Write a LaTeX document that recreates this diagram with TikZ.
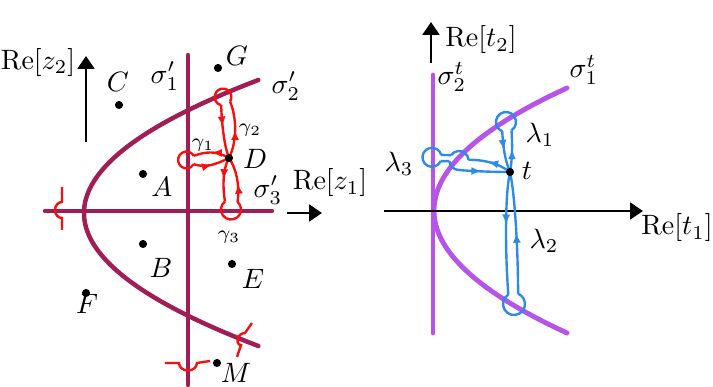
\documentclass[tikz,border=0pt]{standalone}
\usetikzlibrary{arrows.meta,decorations.markings,calc}
\definecolor{maroon}{RGB}{160,30,85}
\definecolor{purp}{RGB}{182,84,232}
\definecolor{cblue}{RGB}{45,138,230}
\definecolor{cred}{RGB}{245,15,15}
\tikzset{
 pdot/.style={circle,fill=black,inner sep=0pt,minimum size=2.9pt},
 lab/.style={inner sep=0pt},
 slab/.style={inner sep=0pt,font=\scriptsize},
 mline/.style={draw=maroon,line width=1.6pt,line cap=round},
 pline/.style={draw=purp,line width=1.75pt,line cap=round},
 rc/.style={cred,line width=0.85pt},
 bc/.style={cblue,line width=0.85pt},
 marr/.style={postaction={decorate},decoration={markings,mark=at position #1 with {\arrow{Latex[length=3.6pt,width=2.9pt]}}}},
 axis/.style={line width=0.9pt,-{Triangle[length=4.6pt,width=6pt]}},
}
\begin{document}
\begin{tikzpicture}[x=0.357pt,y=-0.357pt]
\useasboundingbox (0,0) rectangle (713,387);

% ---------- left panel: curves ----------
\draw[mline] (188,55) -- (188,385);
\draw[mline] (45,211) -- (272,211);
\draw[mline] plot[domain=80:346,samples=80,smooth] ({84+0.00985*(\x-213)*(\x-213)},\x);

% axes left
\coordinate (z2s) at (86,142); \coordinate (z2e) at (86,56);
\draw[axis] (z2s) -- (z2e);
\coordinate (z1s) at (287,213); \coordinate (z1e) at (322,213);
\draw[axis] (z1s) -- (z1e);

% dots
\node[pdot] (G) at (218,68) {};
\node[pdot] (C) at (119,105) {};
\node[pdot] (A) at (143,174) {};
\node[pdot] (B) at (143,244) {};
\node[pdot] (E) at (232,264) {};
\node[pdot] (F) at (86,293) {};
\node[pdot] (M) at (217,363) {};

% red cuts
\draw[rc] (62,187) -- (62,202) arc[start angle=90,end angle=270,x radius=2.5pt,y radius=2.86pt] -- (62,230);
\draw[rc] (165,363) -- (179,363) arc[start angle=180,end angle=360,x radius=3.2pt,y radius=2.7pt] -- (210,361);
\draw[rc] (252,323) -- (245,333) .. controls (237,333) and (235,345) .. (241,345) -- (237,357);

% red contours
\coordinate (Dc) at (229,158);
% gamma2
\coordinate (c2) at (223,97);
\coordinate (c2r) at ($(c2)+(327:3.0pt)$);
\coordinate (c2l) at ($(c2)+(257:3.0pt)$);
\draw[rc,marr=0.5] (Dc) .. controls (238,140) and (236,115) .. (c2r);
\draw[rc] (c2r) arc[start angle=327,end angle=617,radius=3.0pt];
\draw[rc,marr=0.4] (c2l) .. controls (222,125) and (224,145) .. (Dc);
% gamma1
\coordinate (c1) at (186.5,160);
\coordinate (c1u) at ($(c1)+(30:3.0pt)$);
\coordinate (c1d) at ($(c1)+(330:3.0pt)$);
\draw[rc,marr=0.5] (Dc) .. controls (215,150) and (205,152) .. (c1u);
\draw[rc] (c1u) arc[start angle=30,end angle=330,radius=3.0pt];
\draw[rc,marr=0.5] (c1d) .. controls (205,168) and (215,165) .. (Dc);
% gamma3
\coordinate (c3) at (231,209.5);
\coordinate (c3l) at ($(c3)+(127:3.57pt)$);
\coordinate (c3r) at ($(c3)+(49:3.57pt)$);
\draw[rc,marr=0.5] (Dc) .. controls (222,170) and (223,190) .. (c3l);
\draw[rc] (c3l) arc[start angle=127,end angle=409,radius=3.57pt];
\draw[rc,marr=0.4] (c3r) .. controls (240,185) and (236,168) .. (Dc);

\node[pdot] (D) at (Dc) {};

% labels left
\node[lab] (lz2) at (38,62) {$\mathrm{Re}[z_2]$};
\node[lab] (lz1) at (330,183) {$\mathrm{Re}[z_1]$};
\node[lab] (s1) at (165,76) {$\sigma'_1$};
\node[lab] (s2) at (286,86) {$\sigma'_2$};
\node[lab] (s3) at (268,190) {$\sigma'_3$};
\node[lab] (Gl) at (237,56) {$G$};
\node[lab] (Cl) at (118,82) {$C$};
\node[lab] (Dl) at (255,159) {$D$};
\node[lab] (Al) at (162,187) {$A$};
\node[lab] (Bl) at (161,268) {$B$};
\node[lab] (El) at (253,279) {$E$};
\node[lab] (Fl) at (87,304) {$F$};
\node[lab] (Ml) at (236,373) {$M$};
\node[slab] (g1) at (203,145) {$\gamma_1$};
\node[slab] (g2) at (250,130) {$\gamma_2$};
\node[slab] (g3) at (229,237) {$\gamma_3$};

% ---------- right panel ----------
\draw[pline] (433,75) -- (433,333);
\draw[pline] plot[domain=88:333,samples=80,smooth] ({434+0.00886*(\x-210.5)*(\x-210.5)},\x);

\coordinate (t1s) at (384,211); \coordinate (t1e) at (643,211);
\draw[axis] (t1s) -- (t1e);
\coordinate (t2s) at (431,63); \coordinate (t2e) at (431,22);
\draw[axis] (t2s) -- (t2e);

\coordinate (tc) at (510,172);
% lambda1
\coordinate (l1) at (506,122);
\coordinate (l1r) at ($(l1)+(304:3.57pt)$);
\coordinate (l1l) at ($(l1)+(248:3.57pt)$);
\draw[bc,marr=0.55] (tc) .. controls (513,155) and (512,140) .. (l1r);
\draw[bc] (l1r) arc[start angle=304,end angle=608,radius=3.57pt];
\draw[bc,marr=0.45] (l1l) .. controls (503,147) and (505,160) .. (tc);
% lambda2
\coordinate (l2) at (514,304);
\coordinate (l2l) at ($(l2)+(121:3.93pt)$);
\coordinate (l2r) at ($(l2)+(68:3.93pt)$);
\draw[bc,marr=0.43] (tc) .. controls (505,195) and (505,250) .. (l2l);
\draw[bc] (l2l) arc[start angle=121,end angle=428,radius=3.93pt];
\draw[bc,marr=0.5] (l2r) .. controls (518,250) and (515,195) .. (tc);
% lambda3
\coordinate (la) at (432,157.3);
\coordinate (lb) at (459,160.5);
\coordinate (b0) at ($(lb)+(5:3.4pt)$);
\coordinate (b146) at ($(lb)+(146:3.4pt)$);
\coordinate (b184) at ($(lb)+(184:3.4pt)$);
\coordinate (b265) at ($(lb)+(265:3.4pt)$);
\coordinate (a15) at ($(la)+(15:3.4pt)$);
\coordinate (a336) at ($(la)+(336:3.4pt)$);
\draw[bc,marr=0.55] (tc) .. controls (495,161) and (480,160) .. (b0);
\draw[bc] (b0) arc[start angle=5,end angle=146,radius=3.4pt];
\draw[bc] (b146) -- (a15);
\draw[bc] (a15) arc[start angle=15,end angle=336,radius=3.4pt];
\draw[bc] (a336) -- (b184);
\draw[bc] (b184) arc[start angle=184,end angle=265,radius=3.4pt];
\draw[bc,marr=0.45] (b265) .. controls (470,171) and (490,172) .. (tc);

\node[pdot] (t) at (tc) {};

% labels right
\node[lab] (lt2) at (481,40) {$\mathrm{Re}[t_2]$};
\node[lab] (lt1) at (677,228) {$\mathrm{Re}[t_1]$};
\node[lab] (st2) at (452,77) {$\sigma^t_2$};
\node[lab] (st1) at (584,70) {$\sigma^t_1$};
\node[lab] (lam1) at (540,135) {$\lambda_1$};
\node[lab] (lam2) at (544,241) {$\lambda_2$};
\node[lab] (lam3) at (399,164) {$\lambda_3$};
\node[lab] (tl) at (527,171) {$t$};
\end{tikzpicture}
\end{document}
